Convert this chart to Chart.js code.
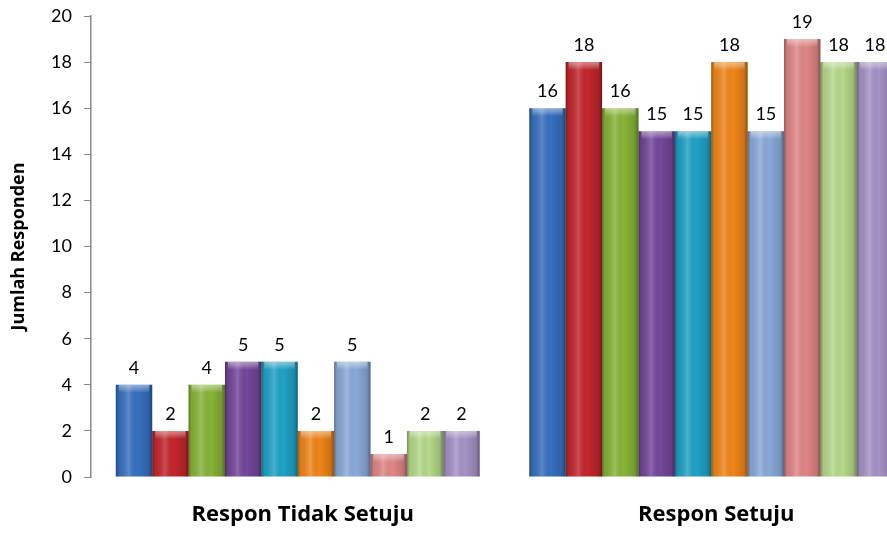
<!DOCTYPE html>
<html>
<head>
<meta charset="utf-8">
<script src="https://cdn.jsdelivr.net/npm/chart.js@4.4.0/dist/chart.umd.min.js"></script>
<style>
  html, body { margin: 0; padding: 0; background: #fff; overflow: hidden; }
  #wrap { width: 930px; height: 533px; }
</style>
</head>
<body>
<div id="wrap"><canvas id="chart" width="930" height="533"></canvas></div>
<script>
// categories and series
const categories = ['Respon Tidak Setuju', 'Respon Setuju'];
const seriesNames = ['S1', 'S2', 'S3', 'S4', 'S5', 'S6', 'S7', 'S8', 'S9', 'S10'];
const tidakSetuju = [4, 2, 4, 5, 5, 2, 5, 1, 2, 2];
const setuju = [16, 18, 16, 15, 15, 18, 15, 19, 18, 18];
const yTicks = [0, 2, 4, 6, 8, 10, 12, 14, 16, 18, 20];
const colors = ['#3670c0', '#c3262c', '#88b437', '#74479a', '#1fa2c6',
                '#f08519', '#8aa9d9', '#e08686', '#b6d98a', '#a592c6'];

const datasets = seriesNames.map((name, i) => ({
  label: name,
  data: [tidakSetuju[i], setuju[i]],
  backgroundColor: colors[i],
  borderWidth: 0
}));

// glossy shading + value labels on top of each bar
const barGloss = {
  id: 'barGloss',
  afterDatasetsDraw(chart) {
    const ctx = chart.ctx;
    chart.data.datasets.forEach((ds, di) => {
      const meta = chart.getDatasetMeta(di);
      meta.data.forEach((bar, j) => {
        const left = bar.x - bar.width / 2;
        const w = bar.width;
        const top = bar.y;
        const h = bar.base - bar.y;
        ctx.save();
        const g = ctx.createLinearGradient(left, 0, left + w, 0);
        g.addColorStop(0, 'rgba(0,0,0,0.35)');
        g.addColorStop(0.08, 'rgba(0,0,0,0.08)');
        g.addColorStop(0.35, 'rgba(255,255,255,0.18)');
        g.addColorStop(0.6, 'rgba(0,0,0,0)');
        g.addColorStop(0.9, 'rgba(0,0,0,0.15)');
        g.addColorStop(1, 'rgba(0,0,0,0.4)');
        ctx.fillStyle = g;
        ctx.fillRect(left, top, w, h);
        // light top cap
        const cap = ctx.createLinearGradient(0, top, 0, top + 8);
        cap.addColorStop(0, 'rgba(255,255,255,0.45)');
        cap.addColorStop(0.5, 'rgba(255,255,255,0.25)');
        cap.addColorStop(1, 'rgba(255,255,255,0)');
        ctx.fillStyle = cap;
        ctx.fillRect(left + 3, top, w - 6, 8);
        // value label
        ctx.fillStyle = '#000';
        ctx.font = '18px Lato';
        ctx.textAlign = 'center';
        ctx.textBaseline = 'bottom';
        ctx.fillText(ds.data[j], bar.x, top - 8);
        ctx.restore();
      });
    });
  }
};

new Chart(document.getElementById('chart'), {
  type: 'bar',
  data: { labels: categories, datasets: datasets },
  options: {
    responsive: false,
    animation: false,
    layout: { padding: { top: 16, right: 12, left: 8, bottom: 0 } },
    plugins: {
      legend: { display: false },
      tooltip: { enabled: false }
    },
    datasets: {
      bar: { categoryPercentage: 0.88, barPercentage: 1.0 }
    },
    scales: {
      x: {
        grid: { display: false },
        border: { display: false },
        ticks: {
          color: '#000',
          padding: 17,
          labelOffset: 5,
          font: { family: 'Open Sans', size: 22, weight: 'bold' }
        },
        afterFit(scale) { scale.height = 56; }
      },
      y: {
        min: 0,
        max: 20,
        afterBuildTicks(scale) { scale.ticks = yTicks.map(v => ({ value: v })); },
        grid: { drawOnChartArea: false, tickLength: 7, color: '#888' },
        border: { display: true, color: '#888', width: 1.5 },
        ticks: {
          color: '#000',
          padding: 12,
          font: { family: 'Lato', size: 18 }
        },
        title: {
          display: true,
          text: 'Jumlah Responden',
          color: '#000',
          padding: { top: 0, bottom: 2 },
          font: { family: 'Open Sans', size: 18, weight: 'bold' }
        },
        afterFit(scale) {
          scale.width = 83;
          scale.paddingTop = 0;
          scale.paddingBottom = 0;
        }
      }
    }
  },
  plugins: [barGloss]
});
</script>
</body>
</html>
